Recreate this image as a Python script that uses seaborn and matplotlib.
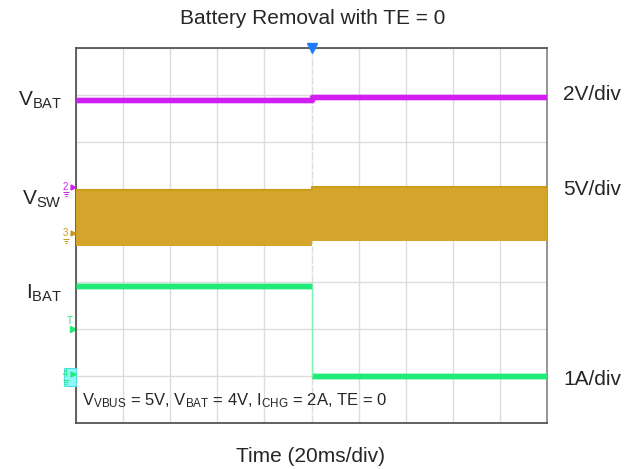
import matplotlib
matplotlib.use("Agg")
import matplotlib.pyplot as plt
from matplotlib.transforms import blended_transform_factory, ScaledTranslation
import seaborn as sns
import pandas as pd

# Segment boundaries in ms: start of record, trigger (battery removed), end of record
time_ms = [0, 100, 200]

# Measured levels before / after the battery is removed
vbat_v = [3.80, 3.93]
vsw_high_v = [4.90, 5.20]
vsw_low_v = [-1.10, -0.60]
ibat_a = [1.92, 0.00]

# Channel vertical scale (units per division) and ground reference (division index)
vbat_scale, vbat_ground = 2.0, 5.0
vsw_scale, vsw_ground = 5.0, 4.0
ibat_scale, ibat_ground = 1.0, 1.0

channel_names = [r"$\mathrm{V_{BAT}}$", r"$\mathrm{V_{SW}}$", r"$\mathrm{I_{BAT}}$"]
scale_labels = ["2V/div", "5V/div", "1A/div"]
title_text = "Battery Removal with TE = 0"
xlabel_text = "Time (20ms/div)"
conditions_text = (r"$\mathrm{V_{VBUS}}$ = 5V, $\mathrm{V_{BAT}}$ = 4V, "
                   r"$\mathrm{I_{CHG}}$ = 2A, TE = 0")

x_divs, y_divs, ms_per_div = 10, 8, 20

C_VBAT = "#D21EF2"
C_VSW = "#D4A52A"
C_VSW_EDGE = "#CF9C16"
C_IBAT = "#1EEB78"
C_TRIG = "#1E7BFF"


def to_div(value, scale, ground):
    return ground + value / scale


sns.set_theme(style="white")
plt.rcParams["font.family"] = ["Liberation Sans", "DejaVu Sans"]
plt.rcParams["mathtext.fontset"] = "custom"
plt.rcParams["mathtext.rm"] = "Liberation Sans"
plt.rcParams["mathtext.it"] = "Liberation Sans:italic"
plt.rcParams["mathtext.bf"] = "Liberation Sans:bold"
plt.rcParams["lines.solid_capstyle"] = "butt"

fig = plt.figure(figsize=(6.4, 4.69), dpi=100)
ax = fig.add_axes([76 / 640, 1 - 423 / 469, 471 / 640, 375 / 469])

# Graticule
ax.set_xlim(0, x_divs * ms_per_div)
ax.set_ylim(0, y_divs)
ax.set_xticks(range(0, x_divs * ms_per_div + 1, ms_per_div))
ax.set_yticks(range(0, y_divs + 1))
ax.set_xticklabels([])
ax.set_yticklabels([])
ax.tick_params(length=0)
ax.grid(True, color="#DCDCDC", linewidth=1.0)
ax.set_axisbelow(True)
for side, spine in ax.spines.items():
    spine.set_visible(True)
    spine.set_linewidth(1.3)
    spine.set_color("#8C8C8C" if side == "right" else "#555555")

# Minor ticks along the centre vertical graticule line
centre_x = x_divs * ms_per_div / 2
minor_y = [i / 5 for i in range(1, y_divs * 5) if i % 5]
sns.lineplot(x=[centre_x] * len(minor_y), y=minor_y, ax=ax, estimator=None, sort=False,
             linestyle="none", marker="_", markersize=5, color="#BDBDBD",
             markeredgewidth=1.0, zorder=1)

# VSW switching envelope
vsw_top = [to_div(v, vsw_scale, vsw_ground) for v in vsw_high_v]
vsw_bot = [to_div(v, vsw_scale, vsw_ground) for v in vsw_low_v]
ax.fill_between(time_ms, vsw_top + vsw_top[-1:], vsw_bot + vsw_bot[-1:],
                step="post", color=C_VSW, linewidth=0, zorder=3)
sns.lineplot(x=time_ms, y=vsw_top + vsw_top[-1:], ax=ax, estimator=None, sort=False,
             drawstyle="steps-post", color=C_VSW_EDGE, linewidth=1.5, zorder=4)

# VBAT trace
vbat_div = [to_div(v, vbat_scale, vbat_ground) for v in vbat_v]
vbat_df = pd.DataFrame({"t": time_ms, "v": vbat_div + vbat_div[-1:]})
sns.lineplot(data=vbat_df, x="t", y="v", ax=ax, estimator=None, sort=False,
             drawstyle="steps-post", color=C_VBAT, linewidth=5.0, alpha=0.3, zorder=4)
sns.lineplot(data=vbat_df, x="t", y="v", ax=ax, estimator=None, sort=False,
             drawstyle="steps-post", color=C_VBAT, linewidth=3.6, zorder=5)

# IBAT trace: thick flat segments joined by a thin falling edge
ibat_div = [to_div(v, ibat_scale, ibat_ground) for v in ibat_a]
for k in range(2):
    seg = pd.DataFrame({"t": time_ms[k:k + 2], "v": [ibat_div[k]] * 2})
    sns.lineplot(data=seg, x="t", y="v", ax=ax, estimator=None, sort=False,
                 color=C_IBAT, linewidth=5.0, alpha=0.3, zorder=4)
    sns.lineplot(data=seg, x="t", y="v", ax=ax, estimator=None, sort=False,
                 color=C_IBAT, linewidth=3.8, zorder=5)
edge = pd.DataFrame({"t": [time_ms[1]] * 2, "v": ibat_div})
sns.lineplot(data=edge, x="t", y="v", ax=ax, estimator=None, sort=False,
             color="#7FF5B0", linewidth=1.0, zorder=5)

ax.set_xlabel("")
ax.set_ylabel("")

# Trigger position marker
ax.plot([centre_x], [y_divs], marker="v", markersize=7, color=C_TRIG,
        clip_on=False, zorder=6)

# Channel reference markers at the left edge
edge_tr = blended_transform_factory(ax.transAxes, ax.transData)


def pts(dx, dy):
    return ScaledTranslation(dx / 72, dy / 72, fig.dpi_scale_trans)


def ground_marker(label, level, color, boxed=False):
    if boxed:
        ax.add_patch(plt.Rectangle((-0.025, level - 0.2), 0.025, 0.38, transform=edge_tr,
                                   facecolor="#8FF7F7", edgecolor="#55DDDD",
                                   linewidth=0.8, clip_on=False, zorder=6))
    ax.text(0, level, label, transform=edge_tr + pts(-5.5, 1.5), color=color,
            fontsize=7, ha="right", va="center", clip_on=False, zorder=7)
    ax.plot([0], [level], marker=">", markersize=3.5, color=color,
            transform=edge_tr + pts(-2.5, 1.5), clip_on=False, zorder=7)
    for dy, w in [(-2.5, 5), (-4.0, 3.5), (-5.5, 2)]:
        ax.plot([0], [level], marker="_", markersize=w, markeredgewidth=0.7,
                color=color, transform=edge_tr + pts(-7.5, dy),
                clip_on=False, zorder=7)


ground_marker("2", vbat_ground, C_VBAT)
ground_marker("3", vsw_ground, "#C8961E")
ground_marker("4", ibat_ground, C_IBAT, boxed=True)
# Trigger level marker
trig_level = ibat_ground + 1.0
ax.text(0, trig_level, "T", transform=edge_tr + pts(-2.5, 6), color=C_IBAT,
        fontsize=7, ha="right", va="center", clip_on=False)
ax.plot([0], [trig_level], marker=">", markersize=4, color=C_IBAT,
        transform=edge_tr + pts(-2.5, 0), clip_on=False)

# Text labels
fig.text(313 / 640, 1 - 18 / 469, title_text, ha="center", va="center", fontsize=15)
fig.text(311 / 640, 1 - 456 / 469, xlabel_text, ha="center", va="center", fontsize=15)

left_label_y = [100, 199, 293]
for name, y in zip(channel_names, left_label_y):
    fig.text(62 / 640, 1 - y / 469, name, ha="right", va="center", fontsize=15)

right_label_y = [95, 189, 379]
for name, y in zip(scale_labels, right_label_y):
    fig.text(563 / 640, 1 - y / 469, name, ha="left", va="center", fontsize=15)

ax.text(0.013, 0.06, conditions_text, transform=ax.transAxes, ha="left",
        va="center", fontsize=12, zorder=8)

fig.savefig("out.png", dpi=100)
